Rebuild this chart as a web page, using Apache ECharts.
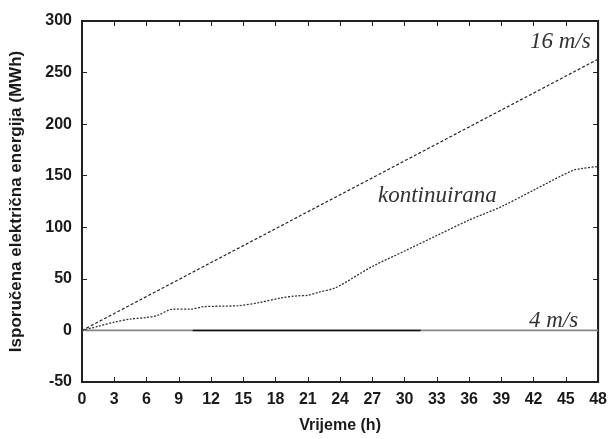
<!DOCTYPE html>
<html>
<head>
<meta charset="utf-8">
<script src="https://cdn.jsdelivr.net/npm/echarts@6/dist/echarts.min.js"></script>
<style>html,body{margin:0;padding:0;background:#fff;}#c{width:610px;height:439px;}</style>
</head>
<body>
<div id="c"></div>
<script>
var xTicks = [0,3,6,9,12,15,18,21,24,27,30,33,36,39,42,45,48];
var yTicks = [-50,0,50,100,150,200,250,300];

var hours16 = [0,3,6,9,12,15,18,21,24,27,30,33,36,39,42,45,48];
var wind16 = [0,16.4,32.9,49.3,65.8,82.2,98.6,115.1,131.5,147.9,164.4,180.8,197.3,213.7,230.1,246.6,263];

var hoursCont = [0,1.5,3,4.5,6,7,8.4,10.2,11.3,14.5,16.5,18.5,20,21,22,23.6,27,30,33,36,39,42,45.6,46.5,48];
var contValues = [0,4,8,11,12.5,14.5,20.5,20.7,23,24,27,31.5,33.5,34,37,41.5,62,77,92,107,120,136,155,157,159];

var hours4 = [0,10.3,31.5,48];
var wind4 = [0,0,0,0];

var labels = ['16 m/s','kontinuirana','4 m/s'];

function pairs(xs, ys){ return xs.map(function(x,i){ return [x, ys[i]]; }); }

var chart = echarts.init(document.getElementById('c'));
var FF = '"Liberation Sans", Arial, sans-serif';
var xMin = xTicks[0], xMax = xTicks[xTicks.length-1];
var yMin = yTicks[0], yMax = yTicks[yTicks.length-1];
function aLine(){ return {show:true, onZero:false, lineStyle:{color:'#222', width:2, type:'solid'}}; }
function aTick(){ return {show:true, inside:true, length:5, lineStyle:{color:'#222', width:1, type:'solid'}}; }
function lab(){ return {show:true, margin:10, fontFamily:FF, fontWeight:'bold', fontSize:16, color:'#1a1a1a'}; }
function xAx(pos, withLabel){
  var o = {type:'value', show:true, min:xMin, max:xMax, interval:3, position:pos,
    axisLine:aLine(), axisTick:aTick(), splitLine:{show:false},
    axisLabel: withLabel ? lab() : {show:false}};
  if (withLabel){ o.name='Vrijeme (h)'; o.nameLocation='middle'; o.nameGap=36;
    o.nameTextStyle={fontFamily:FF, fontWeight:'bold', fontSize:16, color:'#1a1a1a'}; }
  return o;
}
function yAx(pos, withLabel){
  var o = {type:'value', show:true, min:yMin, max:yMax, interval:50, position:pos,
    axisLine:aLine(), axisTick:aTick(), splitLine:{show:false},
    axisLabel: withLabel ? lab() : {show:false}};
  if (withLabel){ o.name='Isporučena električna energija (MWh)'; o.nameLocation='middle'; o.nameGap=57;
    o.nameTextStyle={fontFamily:FF, fontWeight:'bold', fontSize:17, color:'#1a1a1a'}; }
  return o;
}
var textFont = 'italic 23px "Liberation Serif", "Times New Roman", serif';
chart.setOption({
  animation:false,
  grid:{left:80, right:10, top:21, bottom:52, show:true, borderColor:'#222', borderWidth:2},
  xAxis:[xAx('bottom', true), xAx('top', false)],
  yAxis:[yAx('left', true), yAx('right', false)],
  series:[{
    name:labels[0], type:'line', data:pairs(hours16, wind16), showSymbol:false, symbol:'none',
    lineStyle:{color:'#222', width:1.2, type:[3,2]}, z:3
  },{
    name:labels[1], type:'line', data:pairs(hoursCont, contValues), showSymbol:false, symbol:'none', smooth:0.3,
    lineStyle:{color:'#333', width:1.3, type:[2,1.5]}, z:3
  },{
    name:labels[2], type:'line', data:pairs(hours4, wind4), showSymbol:false, symbol:'none',
    lineStyle:{width:1.8, color:'#888'}, z:2,
    markLine:{silent:true, symbol:'none', label:{show:false},
      lineStyle:{color:'#111', width:1.3, type:'solid'},
      data:[[{coord:[hours4[1], wind4[1]]},{coord:[hours4[2], wind4[2]]}]]}
  }],
  graphic:[
    {type:'text', left:530, top:30, style:{text:labels[0], font:textFont, fill:'#333'}},
    {type:'text', left:378, top:184, style:{text:labels[1], font:textFont, fill:'#333'}},
    {type:'text', left:529, top:309, style:{text:labels[2], font:textFont, fill:'#333'}}
  ]
});
</script>
</body>
</html>
